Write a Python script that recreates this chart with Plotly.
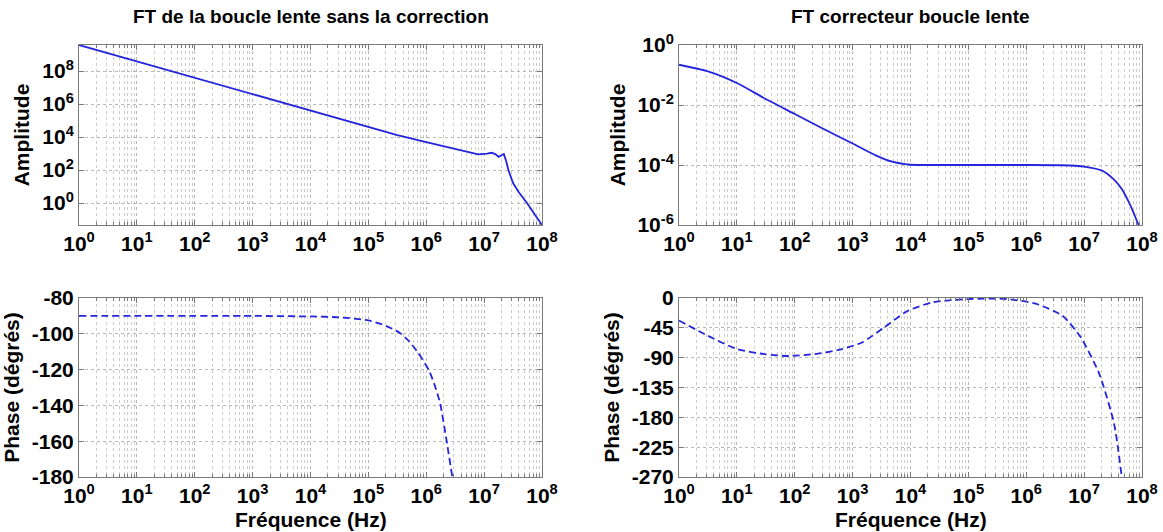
import plotly.graph_objects as go

# --- data (Bode plots) ---
# open loop magnitude (top left)
f_open_amp = [1, 10, 100, 1e3, 1e4, 1e5, 3.16e5, 1e6, 2.5e6, 5e6, 7.9e6, 1.12e7,
              1.35e7, 1.58e7, 1.78e7, 2.0e7, 2.19e7, 2.4e7, 2.63e7, 3.16e7,
              3.98e7, 5.5e7, 7.4e7, 1e8]
open_amp = [3.8e9, 3.8e8, 3.8e7, 3.8e6, 3.8e5, 3.98e4, 1.32e4, 5.0e3, 2.24e3,
            1.26e3, 891, 1000, 1122, 891, 631, 794, 933, 355, 100, 16.2,
            4.5, 1.0, 0.224, 0.047]

# open loop phase (bottom left)
f_open_ph = [1, 1e3, 1e4, 3.16e4, 1e5, 2e5, 3.5e5, 5e5, 7.2e5, 1.12e6, 1.41e6,
             1.74e6, 2.19e6, 2.82e6]
open_ph = [-90, -90, -90.3, -90.8, -92.5, -95.5, -99.5, -104, -110.5, -120.6,
           -129, -139, -157.5, -180]

# corrector magnitude (top right)
f_corr_amp = [1, 3.16, 10, 31.6, 100, 316, 1e3, 2.5e3, 5e3, 1e4, 3.16e4, 1e5,
              1e6, 4e6, 1e7, 2e7, 3.16e7, 4.47e7, 6.3e7, 7.9e7, 8.7e7]
corr_amp = [0.22, 0.132, 0.054, 0.0158, 5.0e-3, 1.58e-3, 5.2e-4, 2.1e-4,
            1.26e-4, 1.02e-4, 1.0e-4, 1.0e-4, 1.0e-4, 9.8e-5, 8.9e-5, 6.6e-5,
            3.5e-5, 1.58e-5, 4.5e-6, 1.6e-6, 1.0e-6]

# corrector phase (bottom right)
f_corr_ph = [1, 3.16, 10, 31.6, 78, 251, 600, 1.48e3, 3.55e3, 8.7e3, 2.4e4,
             1.05e5, 4.6e5, 1.5e6, 4.2e6, 8.7e6, 1.82e7, 3.3e7, 4.47e7]
corr_ph = [-34, -57, -77, -85, -87.5, -84, -78, -66.7, -44, -20, -6.5, -1.5,
           -1.5, -9, -26.6, -59, -114, -190, -270]

# tick labels
freq_ticks = [10 ** k for k in range(9)]
freq_labels = ["10<sup>%d</sup>" % k for k in range(9)]
amp_open_ticks = [1, 1e2, 1e4, 1e6, 1e8]
amp_open_labels = ["10<sup>0</sup>", "10<sup>2</sup>", "10<sup>4</sup>",
                   "10<sup>6</sup>", "10<sup>8</sup>"]
amp_corr_ticks = [1e-6, 1e-4, 1e-2, 1]
amp_corr_labels = ["10<sup>-6</sup>", "10<sup>-4</sup>", "10<sup>-2</sup>",
                   "10<sup>0</sup>"]
ph_open_ticks = [-180, -160, -140, -120, -100, -80]
ph_open_labels = ["-180", "-160", "-140", "-120", "-100", "-80"]
ph_corr_ticks = [-270, -225, -180, -135, -90, -45, 0]
ph_corr_labels = ["-270", "-225", "-180", "-135", "-90", "-45", "0"]

minor_freq = [m * 10 ** k for k in range(8) for m in range(2, 10)]

W, H = 1163, 532
BLUE = "#2424dc"
FONT = "Liberation Sans"


def px_dom(a, b):
    return [a / W, b / W]


def py_dom(top, bottom):
    return [1 - bottom / H, 1 - top / H]


def curve(x, y, xa, ya, dash="solid"):
    return go.Scatter(x=x, y=y, mode="lines", xaxis=xa, yaxis=ya,
                      line=dict(color=BLUE, width=1.8, dash=dash,
                                shape="spline", smoothing=0.6))


fig = go.Figure()
fig.add_trace(go.Scatter(x=f_open_amp, y=open_amp, mode="lines", xaxis="x", yaxis="y",
                         line=dict(color=BLUE, width=1.8)))
fig.add_trace(curve(f_corr_amp, corr_amp, "x2", "y2"))
fig.add_trace(curve(f_open_ph, open_ph, "x3", "y3", "7px,4px"))
fig.add_trace(curve(f_corr_ph, corr_ph, "x4", "y4", "7px,4px"))

tickfont = dict(family=FONT, size=21, color="black", weight="bold")
titlefont = dict(family=FONT, size=21, color="black", weight="bold")
common = dict(showline=True, linecolor="#7a7a7a", linewidth=1, mirror="allticks",
              ticks="inside", ticklen=5, tickcolor="#7a7a7a",
              showgrid=True, gridcolor="#b8b8b8", griddash="dot", gridwidth=1,
              zeroline=False, tickfont=tickfont, automargin=False)


def xax(dom, anchor):
    return dict(common, type="log", range=[0, 8], domain=dom, anchor=anchor,
                tickmode="array", tickvals=freq_ticks, ticktext=freq_labels,
                minor=dict(tickmode="array", tickvals=minor_freq, ticks="inside",
                           ticklen=3, tickcolor="#7a7a7a", showgrid=True,
                           gridcolor="#cccccc", griddash="dot", gridwidth=1))


def yax(dom, anchor, title, **kw):
    return dict(common, domain=dom, anchor=anchor, tickmode="array",
                title=dict(text=title, font=titlefont, standoff=6), **kw)


xl = px_dom(79, 542)
xr = px_dom(679, 1142)
yt = py_dom(45, 225)
yb = py_dom(298, 477)
title_font = dict(family=FONT, size=19, color="black", weight="bold")


def label(text, x, ypx, font):
    return dict(text=text, x=x, y=1 - ypx / H, xref="paper", yref="paper",
                xanchor="center", yanchor="middle", showarrow=False, font=font)


fig.update_layout(
    width=W, height=H, margin=dict(l=0, r=0, t=0, b=0),
    paper_bgcolor="white", plot_bgcolor="white", showlegend=False,
    xaxis=xax(xl, "y"),
    xaxis2=xax(xr, "y2"),
    xaxis3=xax(xl, "y3"),
    xaxis4=xax(xr, "y4"),
    yaxis=yax(yt, "x", "Amplitude", type="log", range=[-1.33, 9.58],
              tickvals=amp_open_ticks, ticktext=amp_open_labels),
    yaxis2=yax(yt, "x2", "Amplitude", type="log", range=[-6, 0],
               tickvals=amp_corr_ticks, ticktext=amp_corr_labels),
    yaxis3=yax(yb, "x3", "Phase (dégrés)", range=[-180, -80],
               tickvals=ph_open_ticks, ticktext=ph_open_labels),
    yaxis4=yax(yb, "x4", "Phase (dégrés)", range=[-270, 0],
               tickvals=ph_corr_ticks, ticktext=ph_corr_labels),
    annotations=[
        label("FT de la boucle lente sans la correction", sum(xl) / 2, 16, title_font),
        label("FT correcteur boucle lente", sum(xr) / 2, 16, title_font),
        label("Fréquence (Hz)", sum(xl) / 2, 519, titlefont),
        label("Fréquence (Hz)", sum(xr) / 2, 519, titlefont),
    ],
)

# the page body has a default 8px margin; drop it so the figure fills the window
fig.write_html("out.html", config={"displayModeBar": False},
               post_script="document.body.style.margin='0px';")
